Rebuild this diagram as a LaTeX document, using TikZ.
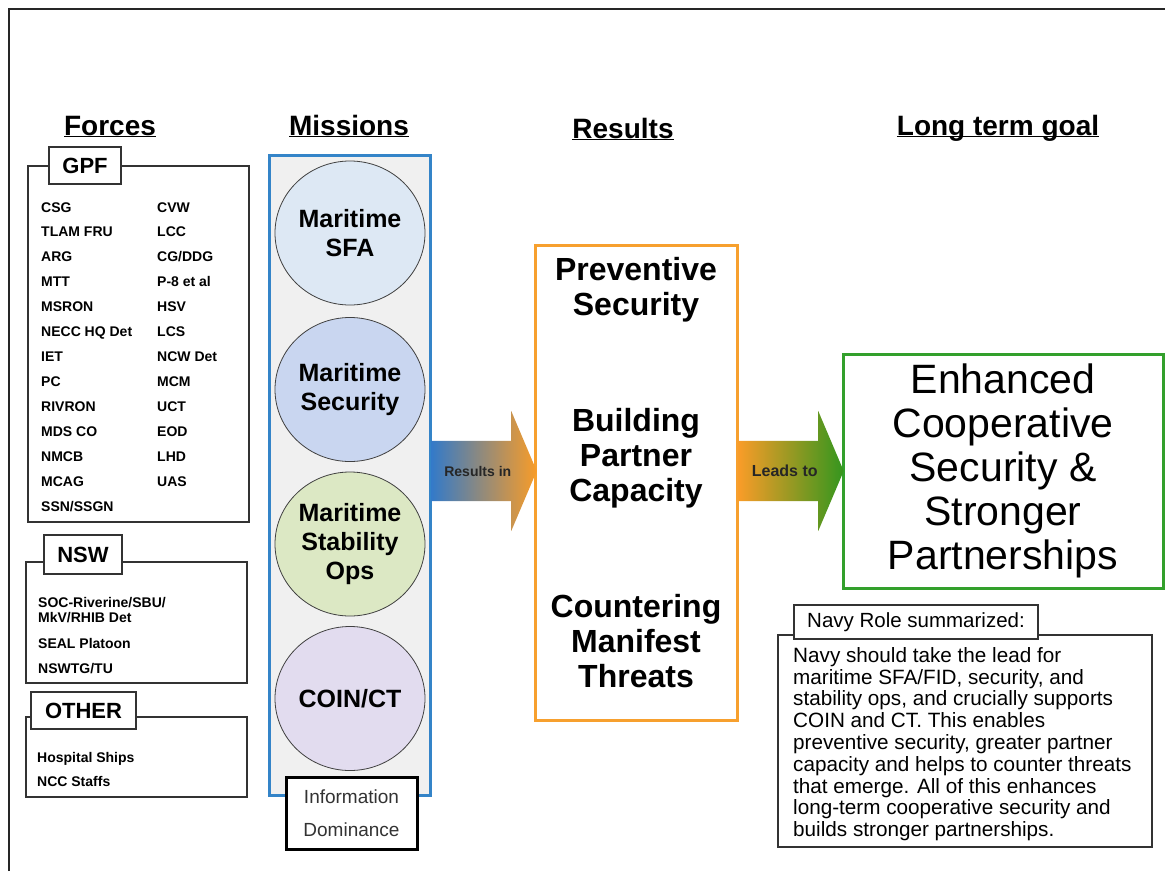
\documentclass[tikz,border=0pt]{standalone}
\usepackage{fontspec}
\setmainfont{Liberation Sans}
\usetikzlibrary{shapes.geometric,shapes.arrows}
\definecolor{colblue}{RGB}{52,132,200}
\definecolor{colgray}{RGB}{240,240,240}
\definecolor{sfafill}{RGB}{221,232,244}
\definecolor{secfill}{RGB}{201,214,240}
\definecolor{stabfill}{RGB}{220,232,196}
\definecolor{coinfill}{RGB}{226,220,239}
\definecolor{resorange}{RGB}{247,160,46}
\definecolor{goalgreen}{RGB}{51,160,44}
\definecolor{arrblue}{RGB}{52,122,200}
\definecolor{arrorange}{RGB}{248,156,40}
\definecolor{arrgreen}{RGB}{52,150,30}
\begin{document}
\begin{tikzpicture}[x=1pt,y=1pt]
    \tikzstyle{every node}+=[inner sep=0pt]
    \tikzstyle{heading}=[anchor=base,font=\fontsize{28}{30}\selectfont\bfseries]
    \tikzstyle{panel}=[draw=black!80,line width=1.2pt,fill=white]
    \tikzstyle{tag}=[panel,font=\fontsize{22}{24}\selectfont\bfseries]
    \tikzstyle{unit}=[anchor=west,text height=10pt,text depth=0pt,font=\fontsize{14}{15}\selectfont\bfseries]
    \tikzstyle{mission}=[ellipse,draw=black!75,line width=0.8pt,minimum width=150,minimum height=144,align=center,font=\fontsize{25}{29}\selectfont\bfseries]
    \tikzstyle{result}=[align=center,font=\fontsize{32}{35}\selectfont\bfseries]
    \tikzstyle{bigarrow}=[single arrow,anchor=tail,minimum height=105,single arrow head extend=30pt,single arrow tip angle=134,text height=10pt,text depth=0pt,inner ysep=25pt,font=\fontsize{14}{15}\selectfont\bfseries,text=black!85]
    \useasboundingbox (0,0) rectangle (1165,-871);
    % frame
    \draw [black!85,line width=2pt] (9,-871) -- (9,-9) -- (1165,-9);
    % headings
    \node [heading] (forcestitle) at (110,-135) {\underline{\smash{Forces}}};
    \node [heading] (missionstitle) at (349,-135) {\underline{\smash{Missions}}};
    \node [heading] (resultstitle) at (623,-138) {\underline{\smash{Results}}};
    \node [heading] (goaltitle) at (998,-135) {\underline{\smash{Long term goal}}};
    % forces
    \node [panel,minimum width=221,minimum height=356] (gpfbox) at (138.5,-344) {};
    \node [tag,minimum width=72,minimum height=37] (gpf) at (85,-165.5) {GPF};
    \foreach \unitname [count=\i from 0] in {CSG,TLAM FRU,ARG,MTT,MSRON,NECC HQ Det,IET,PC,RIVRON,MDS CO,NMCB,MCAG,SSN/SSGN}
        \node [unit] (gpfa\i) at (41,-207-24.92*\i) {\unitname};
    \foreach \unitname [count=\i from 0] in {CVW,LCC,CG/DDG,P-8 et al,HSV,LCS,NCW Det,MCM,UCT,EOD,LHD,UAS}
        \node [unit] (gpfb\i) at (157,-207-24.92*\i) {\unitname};
    \node [panel,minimum width=221,minimum height=121] (nswbox) at (136.5,-622.5) {};
    \node [tag,minimum width=78,minimum height=39] (nsw) at (83,-554.5) {NSW};
    \node [unit] (nswa) at (38,-602) {SOC-Riverine/SBU/};
    \node [unit] (nswb) at (38,-617) {MkV/RHIB Det};
    \node [unit] (nswc) at (38,-643) {SEAL Platoon};
    \node [unit] (nswd) at (38,-668) {NSWTG/TU};
    \node [panel,minimum width=221,minimum height=80] (otherbox) at (136.5,-757) {};
    \node [tag,minimum width=105,minimum height=37] (other) at (83.5,-710.5) {OTHER};
    \node [unit] (othera) at (37,-757) {Hospital Ships};
    \node [unit] (otherb) at (37,-781) {NCC Staffs};
    % missions
    \node [draw=colblue,line width=3pt,fill=colgray,minimum width=161,minimum height=640] (missions) at (349.5,-475) {};
    \node [mission,fill=sfafill] (sfa) at (350,-233) {Maritime\\SFA};
    \node [mission,fill=secfill] (msec) at (350,-389.5) {Maritime\\Security};
    \node [mission,fill=stabfill] (stab) at (350,-544) {Maritime\\Stability\\Ops};
    \node [mission,fill=coinfill] (coin) at (350,-698.5) {COIN/CT};
    \node [draw=black,line width=3pt,fill=white,minimum width=131,minimum height=72,align=center,text=black!80,font=\fontsize{19}{33}\selectfont] (infodom) at (351.5,-813) {Information\\Dominance};
    % results
    \node [draw=resorange,line width=3pt,minimum width=202,minimum height=475] (results) at (636,-482.5) {};
    \node [result] (prevsec) at (636,-290) {Preventive\\Security};
    \node [result] (bpc) at (636,-458) {Building\\Partner\\Capacity};
    \node [result] (cmt) at (636,-641) {Countering\\Manifest\\Threats};
    % goal
    \node [draw=goalgreen,line width=3pt,minimum width=320,minimum height=234,align=center,font=\fontsize{41}{44}\selectfont] (goal) at (1003,-471) {Enhanced\\Cooperative\\Security \&\\Stronger\\Partnerships};
    % arrows
    \node [bigarrow,left color=arrblue,right color=arrorange] (resultsin) at (missions.east |- goal.west) {Results in};
    \node [bigarrow,left color=arrorange,right color=arrgreen,font=\fontsize{16}{17}\selectfont\bfseries] (leadsto) at (results.east |- goal.west) {Leads to};
    % navy role
    \node [panel,minimum width=374,minimum height=212] (rolebox) at (965,-741) {};
    \node [panel,minimum width=244,minimum height=34,font=\fontsize{20.5}{22}\selectfont] (roletag) at (916,-622) {Navy Role summarized:};
    \node [anchor=north west,align=left,font=\fontsize{20.7}{21.8}\selectfont] (roletext) at (793,-647) {Navy should take the lead for\\maritime SFA/FID, security, and\\stability ops, and crucially supports\\COIN and CT. This enables\\preventive security, greater partner\\capacity and helps to counter threats\\that emerge. All of this enhances\\long-term cooperative security and\\builds stronger partnerships.};
\end{tikzpicture}
\end{document}
